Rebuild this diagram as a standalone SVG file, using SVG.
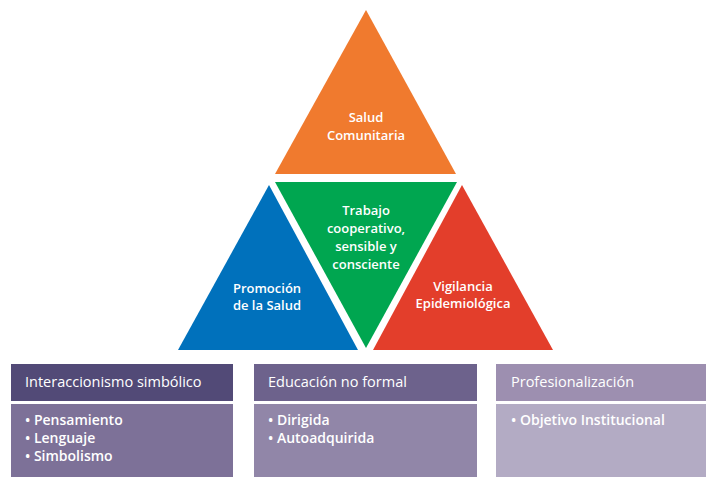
<svg xmlns="http://www.w3.org/2000/svg" width="706" height="477" viewBox="0 0 706 477">
<style>
.tl{font-family:"Open Sans","Liberation Sans",sans-serif;font-size:13px;font-weight:600;fill:#fff;text-anchor:middle}
.bx{font-family:"Open Sans","Liberation Sans",sans-serif;font-size:14.5px;font-weight:500;fill:#fff}
.it{font-size:14px;font-weight:600}
</style>
<rect width="706" height="477" fill="#fff"/>
<g id="salud-comunitaria">
<polygon points="366,10 456,174 275,174" fill="#F07A2E"/>
<text class="tl" x="366" y="122">Salud</text>
<text class="tl" x="366" y="140">Comunitaria</text>
</g>
<g id="trabajo">
<polygon points="275,182 457,182 366,348" fill="#00A650"/>
<text class="tl" x="366" y="215">Trabajo</text>
<text class="tl" x="366" y="233">cooperativo,</text>
<text class="tl" x="366" y="251">sensible y</text>
<text class="tl" x="366" y="269">consciente</text>
</g>
<g id="promocion">
<polygon points="269,185 358,350 178,350" fill="#0071BC"/>
<text class="tl" x="267" y="293">Promoción</text>
<text class="tl" x="267" y="310">de la Salud</text>
</g>
<g id="vigilancia">
<polygon points="462,185 553,350 373,350" fill="#E33E2B"/>
<text class="tl" x="463" y="291">Vigilancia</text>
<text class="tl" x="463" y="308">Epidemiológica</text>
</g>
<g id="interaccionismo">
<rect x="11" y="364" width="222" height="37" fill="#524A77"/>
<rect x="11" y="404" width="222" height="73" fill="#7D7198"/>
<text class="bx" x="25" y="387">Interaccionismo simbólico</text>
<text class="bx it" x="25" y="425">• Pensamiento</text>
<text class="bx it" x="25" y="443">• Lenguaje</text>
<text class="bx it" x="25" y="461">• Simbolismo</text>
</g>
<g id="educacion">
<rect x="254" y="364" width="223" height="37" fill="#6D628C"/>
<rect x="254" y="404" width="223" height="73" fill="#9186A8"/>
<text class="bx" x="268" y="387">Educación no formal</text>
<text class="bx it" x="268" y="425">• Dirigida</text>
<text class="bx it" x="268" y="443">• Autoadquirida</text>
</g>
<g id="profesionalizacion">
<rect x="496" y="364" width="210" height="37" fill="#9D8FB0"/>
<rect x="496" y="404" width="210" height="73" fill="#B3ABC4"/>
<text class="bx" x="511" y="387">Profesionalización</text>
<text class="bx it" x="511" y="425">• Objetivo Institucional</text>
</g>
<g id="connectors"></g>
</svg>
